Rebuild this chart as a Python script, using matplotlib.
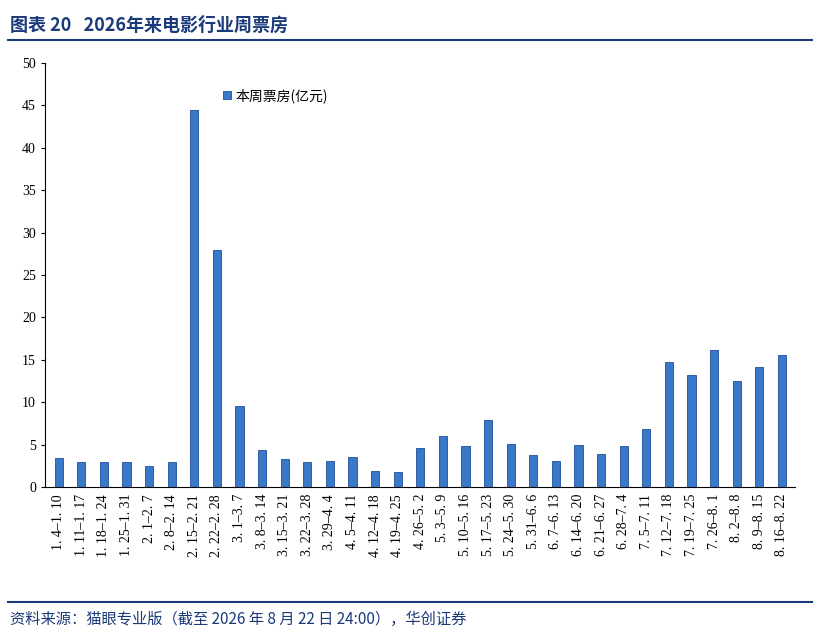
import matplotlib.pyplot as plt
from matplotlib.lines import Line2D

plt.rcParams['font.family'] = ['Noto Sans CJK SC', 'DejaVu Sans']

weeks = ["1.4-1.10", "1.11-1.17", "1.18-1.24", "1.25-1.31", "2.1-2.7", "2.8-2.14",
         "2.15-2.21", "2.22-2.28", "3.1-3.7", "3.8-3.14", "3.15-3.21", "3.22-3.28",
         "3.29-4.4", "4.5-4.11", "4.12-4.18", "4.19-4.25", "4.26-5.2", "5.3-5.9",
         "5.10-5.16", "5.17-5.23", "5.24-5.30", "5.31-6.6", "6.7-6.13", "6.14-6.20",
         "6.21-6.27", "6.28-7.4", "7.5-7.11", "7.12-7.18", "7.19-7.25", "7.26-8.1",
         "8.2-8.8", "8.9-8.15", "8.16-8.22"]
box_office = [3.4, 3.0, 3.0, 3.0, 2.5, 3.0, 44.5, 28.0, 9.5, 4.4, 3.3, 3.0, 3.1,
              3.5, 1.9, 1.8, 4.6, 6.0, 4.8, 7.9, 5.1, 3.8, 3.1, 4.9, 3.9, 4.8,
              6.8, 14.7, 13.2, 16.1, 12.5, 14.2, 15.6]

fig = plt.figure(figsize=(8.2, 6.35), dpi=100)
ax = fig.add_axes([0.055, 0.233, 0.915, 0.668])

x = range(len(weeks))
ax.bar(x, box_office, width=0.36, color='#3a78c9', edgecolor='#1f4f9a',
       linewidth=0.6, label='本周票房(亿元)')
ax.set_xlim(-0.6, len(weeks) - 0.4)
ax.set_ylim(0, 50)
ax.set_yticks(range(0, 51, 5))
ax.set_xticks(list(x))
labels = [w.replace('.', '. ').replace('-', '–') for w in weeks]
ax.set_xticklabels(labels, rotation=90, fontsize=10, family=['Liberation Serif'])
for lab in ax.get_yticklabels():
    lab.set_family('Liberation Serif')
    lab.set_fontsize(10)
ax.tick_params(axis='x', length=0, pad=5)
ax.tick_params(axis='y', direction='out', length=3)
for s in ['top', 'right']:
    ax.spines[s].set_visible(False)
ax.legend(loc='upper left', bbox_to_anchor=(0.22, 0.97), frameon=False,
          fontsize=10, handlelength=0.6, handleheight=0.6, handletextpad=0.3)

fig.text(0.012, 0.975, '图表 20   2026年来电影行业周票房', fontsize=13,
         fontweight='bold', color='#1a3a7a', va='top')
fig.add_artist(Line2D([0.01, 0.99], [0.937, 0.937], color='#1a3a7a', lw=1.5))
fig.add_artist(Line2D([0.01, 0.99], [0.052, 0.052], color='#1a3a7a', lw=1.5))
fig.text(0.012, 0.025, '资料来源：猫眼专业版（截至 2026 年 8 月 22 日 24:00），华创证券',
         fontsize=11, color='#1a3a7a', va='center')

fig.savefig('out.png', dpi=100)
